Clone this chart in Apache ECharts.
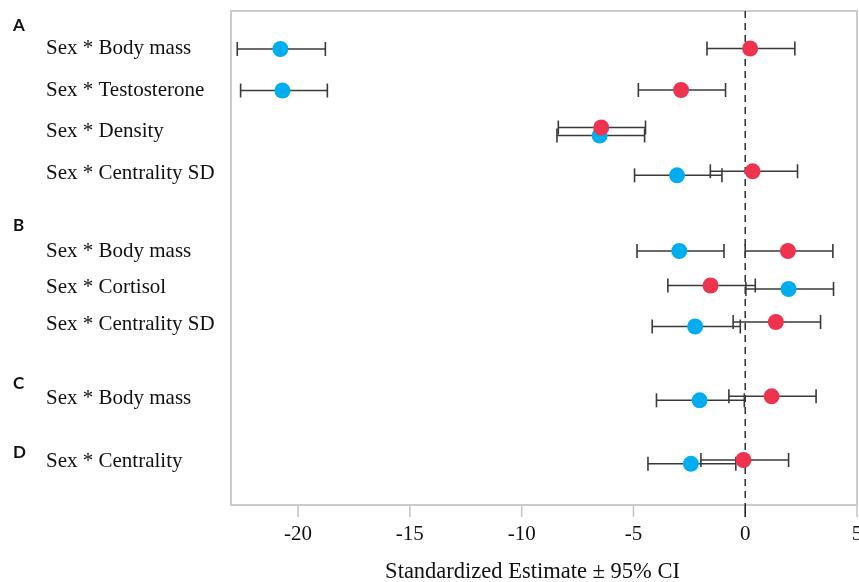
<!DOCTYPE html>
<html><head><meta charset="utf-8">
<script src="https://cdn.jsdelivr.net/npm/echarts@6/dist/echarts.min.js"></script>
<style>html,body{margin:0;padding:0;background:#fff}#c{width:859px;height:582px}</style>
</head><body><div id="c"></div>
<script>
// ---- data ----
const rowLabels = ['Sex * Body mass','Sex * Testosterone','Sex * Density','Sex * Centrality SD','Sex * Body mass','Sex * Cortisol','Sex * Centrality SD','Sex * Body mass','Sex * Centrality'];
const panelLetters = ['A','B','C','D'];
const blueEst = [-20.79,-20.70,-6.51,-3.05,-2.95,1.94,-2.24,-2.04,-2.43];
const blueLo  = [-22.72,-22.57,-8.42,-4.95,-4.84,0.03,-4.16,-3.97,-4.35];
const blueHi  = [-18.78,-18.69,-4.50,-1.04,-0.95,3.95,-0.22,-0.04,-0.42];
const redEst  = [0.22,-2.87,-6.44,0.33,1.91,-1.55,1.37,1.18,-0.08];
const redLo   = [-1.71,-4.78,-8.36,-1.56,0.00,-3.46,-0.54,-0.73,-1.98];
const redHi   = [2.22,-0.88,-4.46,2.34,3.92,0.45,3.37,3.17,1.94];
const xTicks  = [-20,-15,-10,-5,0,5];
const refValue = [0];
const axisTitle = 'Standardized Estimate \u00b1 95% CI';

// ---- layout (row slots on the vertical scale, not data) ----
const Y_MIN = 0, Y_MAX = 494;
const rowPos    = [37.8,79.3,120.5,162.3,240,276.3,313.3,387.3,450.9];
const redShift  = [-0.3,-0.3,-4,-2,0,-1.8,-2.3,-2,-1.9];
const blueShift = [0.2,0.2,4,2,0,1.7,2.2,2,1.9];
const letterTop = [25.5,226,384,452.5];
const TICK_LEN = 11;

const BLUE = '#00AEEF', RED = '#EE334E';
const serif = 'Liberation Serif';

function errData(lo, hi, shift){ return lo.map((v,i)=>[v, hi[i], rowPos[i]+shift[i]]); }
function ptData(est, shift){ return est.map((v,i)=>[v, rowPos[i]+shift[i]]); }

function renderErr(params, api){
  const y = api.value(2);
  const p1 = api.coord([api.value(0), y]);
  const p2 = api.coord([api.value(1), y]);
  const h = 7;
  const style = {stroke:'#3a3a3a', lineWidth:1.6};
  return {type:'group', children:[
    {type:'line', shape:{x1:p1[0],y1:p1[1],x2:p2[0],y2:p2[1]}, style},
    {type:'line', shape:{x1:p1[0],y1:p1[1]-h,x2:p1[0],y2:p1[1]+h}, style},
    {type:'line', shape:{x1:p2[0],y1:p2[1]-h,x2:p2[0],y2:p2[1]+h}, style}
  ]};
}

function renderTick(params, api){
  const bot = api.coord([api.value(0), Y_MAX]);
  return {type:'line', shape:{x1:bot[0],y1:bot[1]+1,x2:bot[0],y2:bot[1]+1+TICK_LEN}, style:{stroke:'#c4c4c4', lineWidth:1.5}};
}

function renderRef(params, api){
  const top = api.coord([api.value(0), Y_MIN]);
  const bot = api.coord([api.value(0), Y_MAX]);
  return {type:'group', children:[
    {type:'line', shape:{x1:top[0],y1:top[1],x2:bot[0],y2:bot[1]}, style:{stroke:'#222', lineWidth:1.4, lineDash:[7,5]}},
    {type:'line', shape:{x1:bot[0],y1:bot[1],x2:bot[0],y2:bot[1]+1+TICK_LEN}, style:{stroke:'#222', lineWidth:1.5}}
  ]};
}

const chart = echarts.init(document.getElementById('c'), null, {renderer:'canvas'});
chart.setOption({
  animation:false,
  backgroundColor:'#fff',
  grid:{left:231, top:11, width:626, height:494, show:true, borderColor:'#cbcbcb', borderWidth:2,
        backgroundColor:'transparent', containLabel:false, outerBoundsMode:'none'},
  xAxis:{
    type:'value', min:-23, max:5, position:'bottom', offset:0,
    axisLine:{show:false, onZero:false},
    splitLine:{show:false},
    axisTick:{show:false},
    axisLabel:{customValues:xTicks, fontSize:21, fontFamily:serif, color:'#111', margin:19},
    name:axisTitle, nameLocation:'middle', nameGap:56,
    nameTextStyle:{fontSize:22.5, fontFamily:serif, color:'#111', padding:[0,23,0,0]}
  },
  yAxis:{
    type:'value', min:Y_MIN, max:Y_MAX, inverse:true,
    axisLine:{show:false, onZero:false}, axisTick:{show:false}, splitLine:{show:false},
    axisLabel:{
      customValues:rowPos,
      formatter:(v)=>{const i=rowPos.indexOf(v); return i>=0?rowLabels[i]:'';},
      align:'left', margin:185, fontSize:21, fontFamily:serif, color:'#111'
    }
  },
  graphic: panelLetters.map((t,i)=>({
    type:'text', x:13, y:letterTop[i],
    style:{text:t, fontSize:17, fontWeight:'bold', fontFamily:'Lato', fill:'#111', verticalAlign:'middle'}
  })),
  series:[
    {type:'custom', name:'ticks', renderItem:renderTick, data:xTicks.map(v=>[v]), encode:{x:0}, clip:false, z:1, silent:true},
    {type:'custom', name:'ref', renderItem:renderRef, data:refValue.map(v=>[v]), encode:{x:0}, clip:false, z:1, silent:true},
    {type:'custom', name:'blueErr', renderItem:renderErr, data:errData(blueLo,blueHi,blueShift), encode:{x:[0,1], y:2}, z:2},
    {type:'custom', name:'redErr', renderItem:renderErr, data:errData(redLo,redHi,redShift), encode:{x:[0,1], y:2}, z:2},
    {type:'scatter', name:'blue', data:ptData(blueEst,blueShift), symbolSize:16, itemStyle:{color:BLUE, opacity:1}, z:3},
    {type:'scatter', name:'red', data:ptData(redEst,redShift), symbolSize:16, itemStyle:{color:RED, opacity:1}, z:4}
  ]
});
</script></body></html>
